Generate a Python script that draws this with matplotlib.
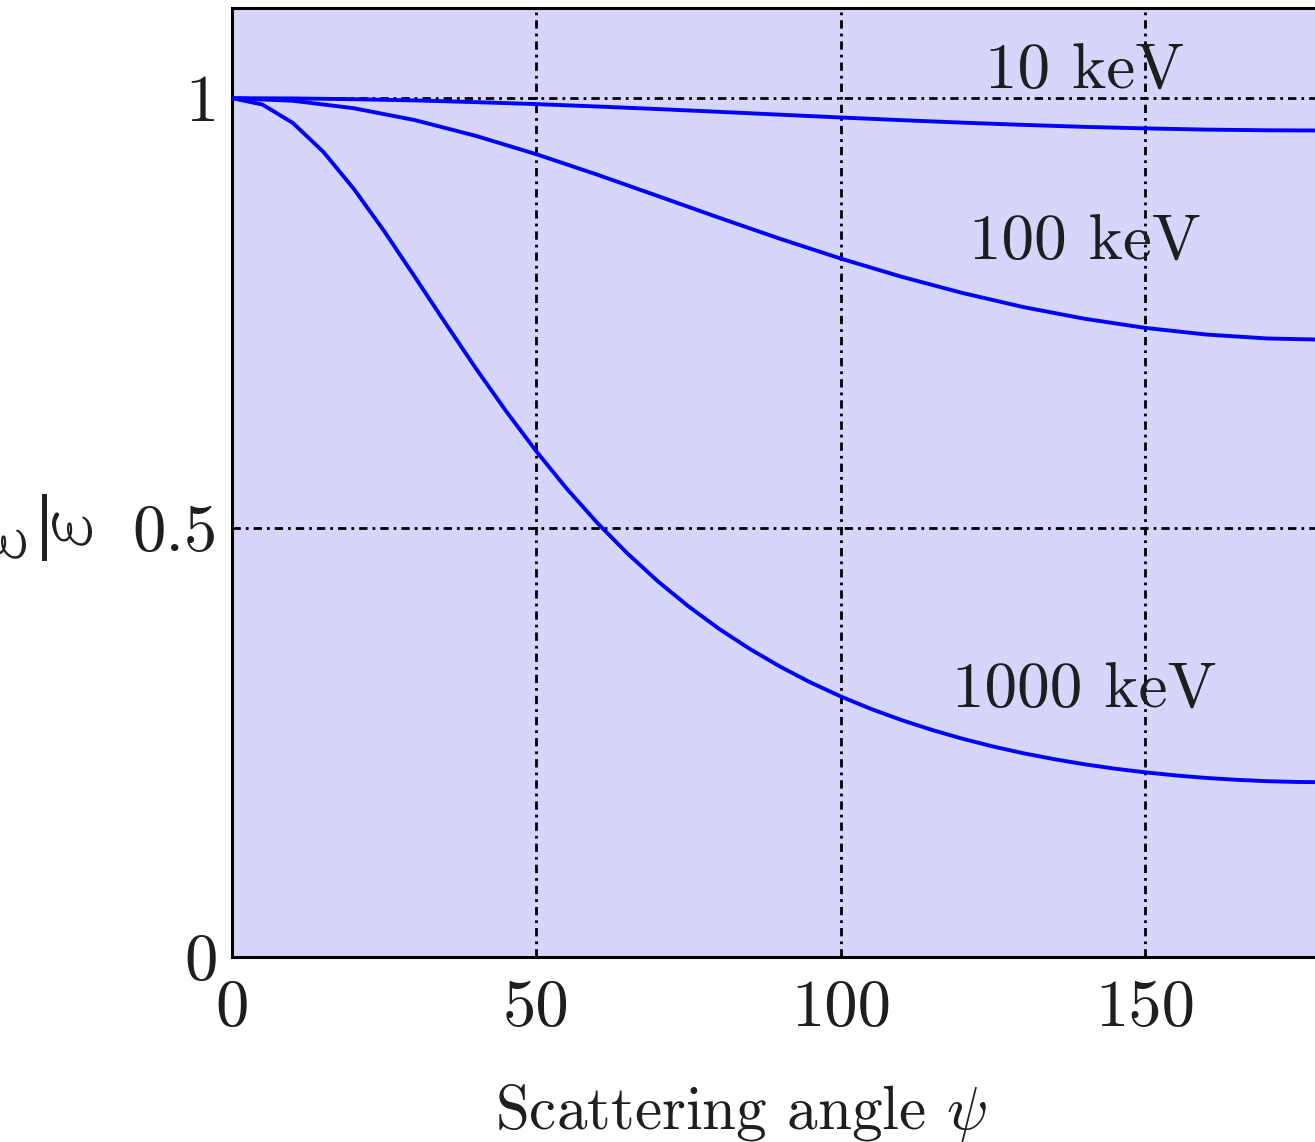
import matplotlib
matplotlib.use("Agg")
import matplotlib.pyplot as plt

# ── 데이터 ─────────────────────────────────────────────────────
angle_coarse = [0, 10, 20, 30, 40, 50, 60, 70, 80, 90,
                100, 110, 120, 130, 140, 150, 160, 170, 180]
ratio_10kev = [1.0, 0.9997, 0.9988, 0.9974, 0.9954, 0.9931, 0.9903, 0.9873, 0.9841, 0.9808,
               0.9775, 0.9744, 0.9715, 0.9689, 0.9666, 0.9648, 0.9634, 0.9626, 0.9623]
ratio_100kev = [1.0, 0.9970, 0.9883, 0.9745, 0.9562, 0.9347, 0.9109, 0.8859, 0.8608, 0.8363,
                0.8132, 0.7920, 0.7731, 0.7567, 0.7432, 0.7325, 0.7248, 0.7202, 0.7187]

angle_fine = [0, 5, 10, 15, 20, 25, 30, 35, 40, 45, 50, 55, 60, 65, 70, 75, 80, 85, 90,
              95, 100, 105, 110, 115, 120, 125, 130, 135, 140, 145, 150, 155, 160, 165,
              170, 175, 180]
ratio_1000kev = [1.0, 0.9926, 0.9711, 0.9375, 0.8945, 0.8451, 0.7922, 0.7386, 0.6859,
                 0.6357, 0.5886, 0.5451, 0.5054, 0.4695, 0.4371, 0.4081, 0.3821, 0.3589,
                 0.3382, 0.3197, 0.3033, 0.2887, 0.2758, 0.2643, 0.2541, 0.2451, 0.2372,
                 0.2304, 0.2244, 0.2193, 0.2150, 0.2114, 0.2085, 0.2063, 0.2047, 0.2038,
                 0.2035]

energy_labels = ["10 keV", "100 keV", "1000 keV"]
label_x = [140, 140, 140]
label_y = [1.030, 0.831, 0.309]

x_ticks = [0, 50, 100, 150]
y_ticks = [0, 0.5, 1]
y_tick_labels = ["0", "0.5", "1"]

# ── 스타일 ────────────────────────────────────────────────────────────
plt.rcParams["font.family"] = ["cmr10", "DejaVu Serif"]
plt.rcParams["mathtext.fontset"] = "cm"
plt.rcParams["axes.formatter.use_mathtext"] = True

W, H = 1315, 1142
TXT = "#1e1e1e"
fig = plt.figure(figsize=(W / 100, H / 100), dpi=100)
fig.patch.set_facecolor("white")

ax = fig.add_axes([232 / W, (H - 957) / H, 1096 / W, (957 - 8) / H])
ax.set_facecolor("#d6d6fc")

line_kw = dict(color="#0000ff", linewidth=2.8, zorder=3)
ax.plot(angle_coarse, ratio_10kev, **line_kw)
ax.plot(angle_coarse, ratio_100kev, **line_kw)
ax.plot(angle_fine, ratio_1000kev, **line_kw)

for txt, lx, ly in zip(energy_labels, label_x, label_y):
    ax.text(lx, ly, txt, fontsize=47, ha="center", va="center", color=TXT, zorder=4)

ax.set_xlim(0, 180)
ax.set_ylim(0, 1.105)
ax.set_xticks(x_ticks)
ax.set_xticklabels([str(t) for t in x_ticks])
ax.set_yticks(y_ticks)
ax.set_yticklabels(y_tick_labels)
ax.tick_params(axis="both", length=0, labelsize=48, colors=TXT)
ax.tick_params(axis="x", pad=16)
ax.tick_params(axis="y", pad=10)

grid_style = (0, (3, 1.8, 1, 1.8))
ax.grid(True, color="black", linestyle=grid_style, linewidth=2.0, zorder=2)
ax.set_axisbelow(True)

for sp in ax.spines.values():
    sp.set_linewidth(2.2)
    sp.set_color("black")

ax.set_xlabel(r"Scattering angle $\psi$", fontsize=44, color=TXT)
ax.xaxis.set_label_coords((741 - 232) / 1096, -(1082 - 957) / 949)

# 회전된 분수 형태의 y축 레이블 (왼쪽이 잘려 보임)
fig.text(27 / W, 1 - 527 / H, r"$\dfrac{\varepsilon'}{\varepsilon}$", fontsize=60,
         rotation=90, ha="center", va="center", color=TXT)

fig.savefig("out.png", dpi=100, facecolor="white")
